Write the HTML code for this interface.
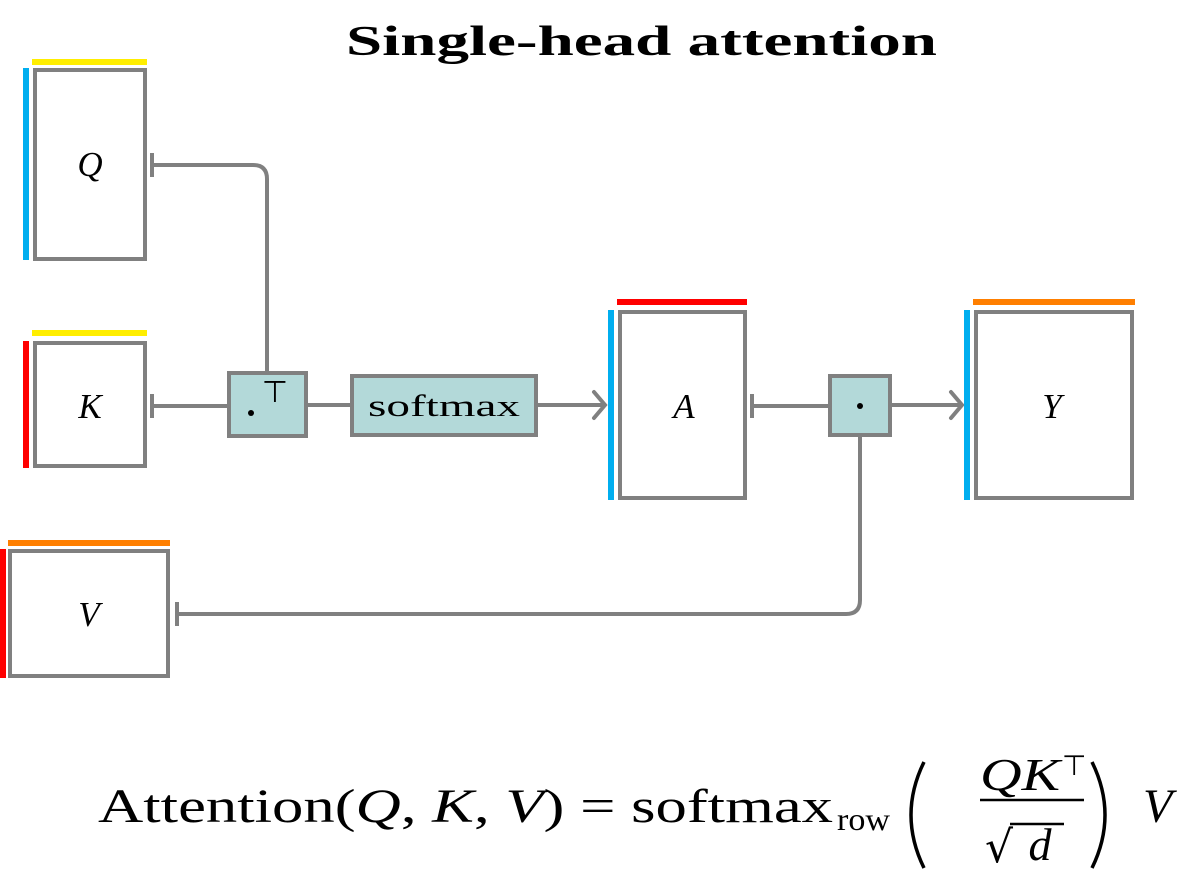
<!DOCTYPE html>
<html><head><style>
body{margin:0;background:#fff;width:1203px;height:886px;overflow:hidden}
</style></head><body>
<svg width="1203" height="886" xmlns="http://www.w3.org/2000/svg" font-family="Liberation Serif, serif">
<text x="346" y="55" font-size="42" font-weight="bold" textLength="591" lengthAdjust="spacingAndGlyphs">Single-head attention</text>
<g fill="none" stroke="#808080" stroke-width="4">
<rect x="35" y="70" width="110" height="189" fill="#fff"/>
<rect x="35" y="343" width="110" height="123" fill="#fff"/>
<rect x="10" y="551" width="158" height="125" fill="#fff"/>
<rect x="620" y="312" width="125" height="186" fill="#fff"/>
<rect x="976" y="312" width="156" height="186" fill="#fff"/>
<rect x="229" y="373" width="77" height="63" fill="#b3d9d9"/>
<rect x="352" y="376" width="184" height="59" fill="#b3d9d9"/>
<rect x="830" y="376" width="60" height="59" fill="#b3d9d9"/>
<path d="M152 165 H253 Q267 165 267 179 V371"/>
<path d="M152 153 V177"/>
<path d="M152 406 H227"/>
<path d="M152 394 V418"/>
<path d="M308 405 H350"/>
<path d="M538 405 H604"/>
<path d="M594 392 L605 405 L594 418" stroke-linecap="round"/>
<path d="M752 406 H828"/>
<path d="M752 394 V418"/>
<path d="M891 405 H961"/>
<path d="M951 392 L962 405 L951 418" stroke-linecap="round"/>
<path d="M860 437 V600 Q860 614 846 614 H177"/>
<path d="M177 602 V626"/>
</g>
<rect x="32" y="59" width="115" height="6" fill="#ffee00"/>
<rect x="23" y="68" width="6" height="192" fill="#00aeef"/>
<rect x="32" y="330" width="115" height="6" fill="#ffee00"/>
<rect x="23" y="341" width="6" height="127" fill="#ff0000"/>
<rect x="8" y="540" width="162" height="6" fill="#ff7f00"/>
<rect x="0" y="549" width="6" height="129" fill="#ff0000"/>
<rect x="617" y="299" width="130" height="6" fill="#ff0000"/>
<rect x="608" y="310" width="6" height="190" fill="#00aeef"/>
<rect x="973" y="299" width="162" height="6" fill="#ff7f00"/>
<rect x="964" y="310" width="6" height="190" fill="#00aeef"/>
<g font-size="35" font-style="italic" text-anchor="middle">
<text x="90" y="176">Q</text>
<text x="90" y="418">K</text>
<text x="89" y="626">V</text>
<text x="684" y="418">A</text>
<text x="1052" y="418">Y</text>
</g>
<circle cx="251" cy="413" r="3" fill="#000"/>
<text x="275" y="402" font-size="30" text-anchor="middle" font-family="DejaVu Sans, sans-serif">⊤</text>
<text x="368" y="416" font-size="31" textLength="152" lengthAdjust="spacingAndGlyphs">softmax</text>
<circle cx="860" cy="406" r="3" fill="#000"/>
<text x="98" y="822" font-size="48" textLength="735" lengthAdjust="spacingAndGlyphs">Attention(<tspan font-style="italic">Q</tspan>, <tspan font-style="italic">K</tspan>, <tspan font-style="italic">V</tspan>) = softmax</text>
<text x="837" y="830" font-size="32" textLength="53" lengthAdjust="spacingAndGlyphs">row</text>
<path d="M924 762 Q898 815 924 868" fill="none" stroke="#000" stroke-width="3.5"/>
<path d="M1092 762 Q1118 815 1092 868" fill="none" stroke="#000" stroke-width="3.5"/>
<text x="980" y="790" font-size="46" font-style="italic" textLength="80" lengthAdjust="spacingAndGlyphs">QK</text>
<text x="1062" y="775" font-size="28" font-family="DejaVu Sans, sans-serif">⊤</text>
<line x1="980" y1="800" x2="1084" y2="800" stroke="#000" stroke-width="2.5"/>
<text x="985" y="862" font-family="DejaVu Sans, sans-serif" font-size="44">√</text>
<line x1="1010" y1="824" x2="1064" y2="824" stroke="#000" stroke-width="2.5"/>
<text x="1040" y="860" font-size="46" font-style="italic" text-anchor="middle">d</text>
<text x="1143" y="822" font-size="48" font-style="italic">V</text>
</svg>
</body></html>
